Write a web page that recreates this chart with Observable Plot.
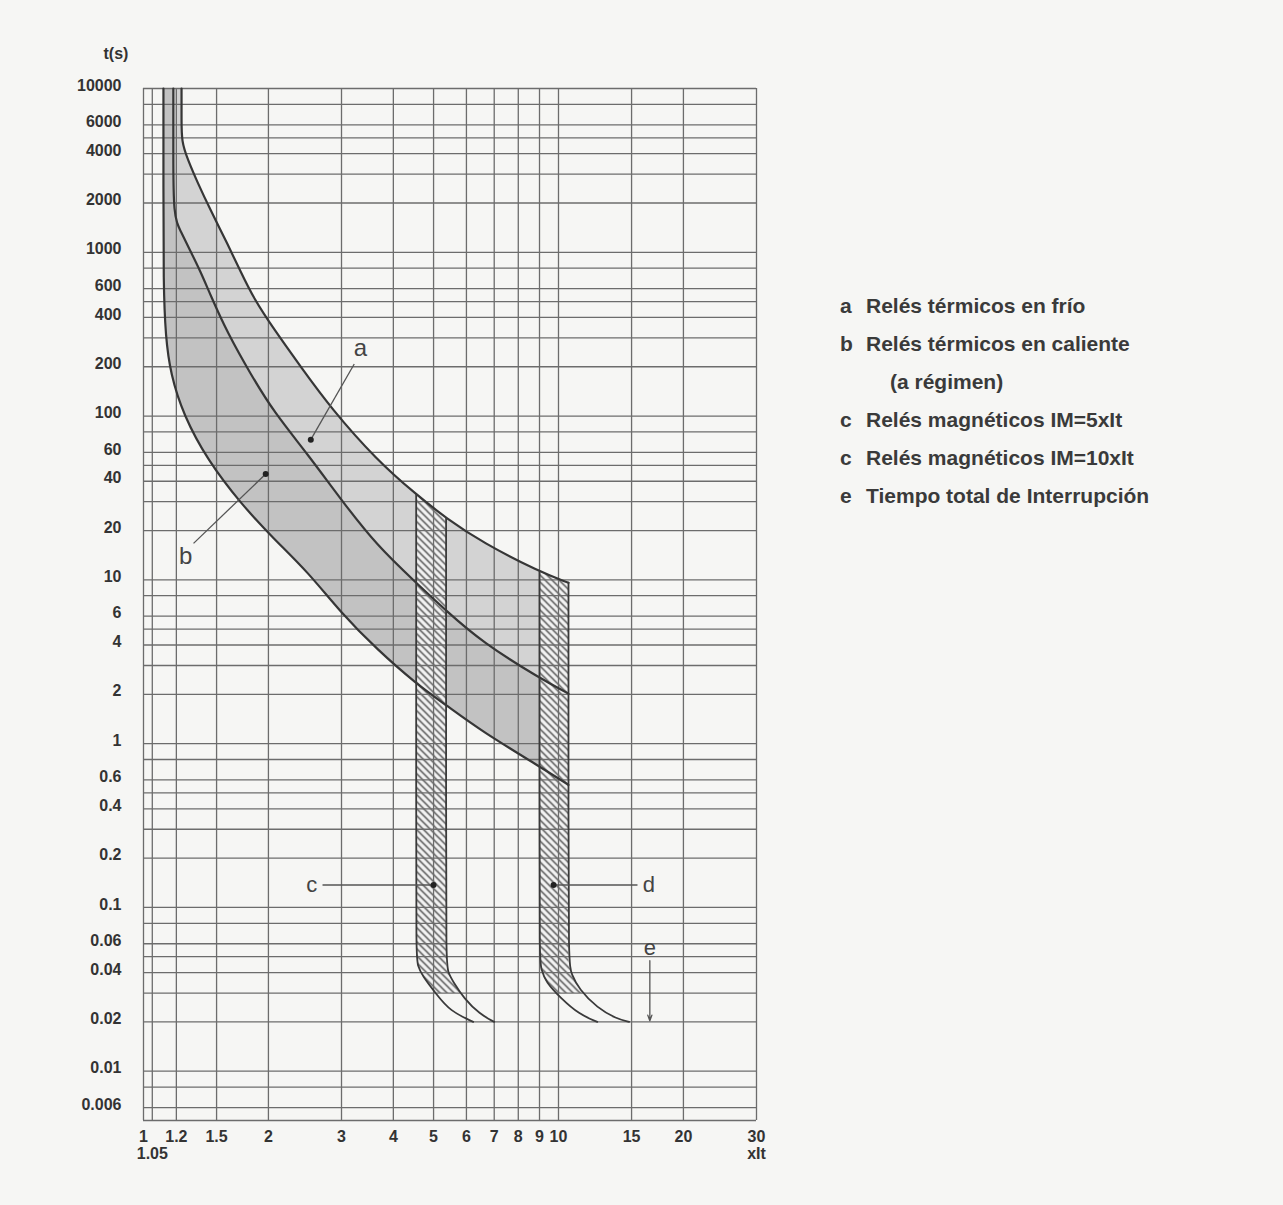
<!DOCTYPE html>
<html><head><meta charset="utf-8">
<script src="https://cdn.jsdelivr.net/npm/d3@7"></script>
<script src="https://cdn.jsdelivr.net/npm/@observablehq/plot@0.6"></script>
<style>
body{margin:0;background:#f6f6f4;font-family:"Liberation Sans",Arial,sans-serif;}
#wrap{position:relative;width:1283px;height:1205px;overflow:hidden;}
#chart{position:absolute;left:0;top:0;}
#legend{position:absolute;left:840px;top:287px;color:#3a3a3a;font-size:21px;font-weight:bold;line-height:38px;white-space:nowrap;}
#legend .k{display:inline-block;width:26px;}
</style></head><body>
<div id="wrap"><div id="chart"></div><div id="legend"></div></div>
<script>
// Axis ticks and grid (x = multiple of setting current, t = seconds)
const xTicks = [1, 1.2, 1.5, 2, 3, 4, 5, 6, 7, 8, 9, 10, 15, 20, 30];
const xGrid = [1, 1.05, 1.2, 1.5, 2, 3, 4, 5, 6, 7, 8, 9, 10, 15, 20, 30];
const yTicks = [10000, 6000, 4000, 2000, 1000, 600, 400, 200, 100, 60, 40, 20, 10, 6, 4, 2, 1, 0.6, 0.4, 0.2, 0.1, 0.06, 0.04, 0.02, 0.01, 0.006];
const yGrid = [0.005, 0.006, 0.008, 0.01, 0.02, 0.03, 0.04, 0.05, 0.06, 0.08,
  0.1, 0.2, 0.3, 0.4, 0.5, 0.6, 0.8, 1, 2, 3, 4, 5, 6, 8, 10, 20, 30, 40, 50, 60, 80,
  100, 200, 300, 400, 500, 600, 800, 1000, 2000, 3000, 4000, 5000, 6000, 8000, 10000];

// Thermal curves [x, t]
const curveUpper = [[1.235,10000],[1.235,6500],[1.235,4732],[1.277,3706],[1.35,2661],[1.451,1805],[1.595,1122],[1.714,761],[1.843,523],[2.06,340],[2.393,200],[2.827,112],[3.65,53.8],[4.54,33.2],[5.36,23.8],[6.56,16.9],[9.0,11.2],[10.57,9.6]];
const curveMiddle = [[1.18,10000],[1.18,4000],[1.18,1655],[1.228,1353],[1.298,1014],[1.373,761],[1.451,546],[1.595,320],[1.813,180],[2.06,106],[2.488,58.4],[2.989,31.0],[3.65,16.2],[4.54,9.6],[5.36,6.48],[6.56,4.15],[9.0,2.51],[10.57,2.02]];
const curveLower = [[1.117,10000],[1.117,2500],[1.117,631],[1.13,307],[1.162,180],[1.249,101],[1.427,53.8],[1.714,29.3],[2.06,17.8],[2.488,11.2],[2.989,6.3],[3.65,3.77],[4.54,2.32],[5.36,1.72],[6.56,1.18],[9.0,0.726],[10.57,0.56]];

// Magnetic release bands
const cLeft = [[4.54,33.2],[4.54,0.3],[4.54,0.0506],[4.58,0.044],[4.69,0.0385],[5.09,0.0293],[5.48,0.0233],[6.23,0.02]];
const cRight = [[5.36,23.8],[5.36,0.3],[5.36,0.046],[5.42,0.04],[5.58,0.035],[5.92,0.0278],[6.46,0.0223],[7.0,0.02]];
const dLeft = [[9.0,11.2],[9.0,0.3],[9.0,0.0485],[9.08,0.042],[9.32,0.035],[10.15,0.0278],[11.2,0.0223],[12.4,0.02]];
const dRight = [[10.57,9.6],[10.57,0.3],[10.57,0.046],[10.75,0.039],[11.2,0.0318],[12.4,0.0243],[13.8,0.0209],[14.8,0.02]];
const hatchC = [[4.54,33.2],[5.36,23.8],[5.36,0.046],[5.42,0.04],[5.58,0.035],[5.8,0.03],[5.05,0.03],[4.69,0.0385],[4.58,0.044],[4.54,0.0506]];
const hatchD = [[9.0,11.2],[10.57,9.6],[10.57,0.046],[10.75,0.039],[11.2,0.0318],[11.45,0.03],[9.85,0.03],[9.32,0.035],[9.08,0.042],[9.0,0.0485]];

// Callout letters, leader lines and dots
const calloutLabels = [
  {k:"a", x:3.33, y:258, size:24}, {k:"b", x:1.263, y:13.9, size:24},
  {k:"c", x:2.545, y:0.137, size:22}, {k:"d", x:16.5, y:0.137, size:22},
  {k:"e", x:16.6, y:0.0564, size:22}];
const leaders = [
  {x1:3.22, y1:208, x2:2.53, y2:71.8}, {x1:1.32, y1:16.7, x2:1.97, y2:44.3},
  {x1:2.70, y1:0.137, x2:5.0, y2:0.137}, {x1:15.5, y1:0.137, x2:9.73, y2:0.137}];
const dots = [[2.53,71.8],[1.97,44.3],[5.0,0.137],[9.73,0.137]];
const arrowE = [{x1:16.6, y1:0.0473, x2:16.6, y2:0.0203}];

// Legend
const legendKeys = ["a", "b", "", "c", "c", "e"];
const legendTexts = ["Relés térmicos en frío", "Relés térmicos en caliente", "(a régimen)", "Relés magnéticos IM=5xIt", "Relés magnéticos IM=10xIt", "Tiempo total de Interrupción"];

// Closed band outlines (corners tripled so the B-spline keeps them sharp)
const tri = p => [p, p, p];
function band(top, bottom) {
  const r = bottom.slice().reverse();
  return [...tri(top[0]), ...top.slice(1, -1), ...tri(top[top.length - 1]),
          ...tri(r[0]), ...r.slice(1, -1), ...tri(r[r.length - 1])];
}
const bandA = band(curveUpper, curveMiddle);
const bandB = band(curveMiddle, curveLower);
const X = d => d[0], Y = d => d[1];
const lineStyle = {x: X, y: Y, stroke: "#363636", strokeWidth: 2.2, curve: "basis"};
const edgeStyle = {x: X, y: Y, stroke: "#3a3a3a", strokeWidth: 1.8, curve: "basis"};

const svg = Plot.plot({
  width: 800, height: 1205,
  marginLeft: 143, marginRight: 44, marginTop: 88, marginBottom: 85,
  style: {fontFamily: "'Liberation Sans', Arial, sans-serif", fontSize: "16px", fontWeight: "bold", color: "#333", background: "transparent"},
  x: {type: "log", domain: [1, 30], axis: null},
  y: {type: "log", domain: [0.005, 10000], axis: null},
  marks: [
    Plot.line(bandA, {x: X, y: Y, fill: "#d3d3d3", stroke: "none", curve: "basis"}),
    Plot.line(bandB, {x: X, y: Y, fill: "#c2c2c2", stroke: "none", curve: "basis"}),
    Plot.line(hatchC, {x: X, y: Y, fill: "url(#hatch)", stroke: "none"}),
    Plot.line(hatchD, {x: X, y: Y, fill: "url(#hatch)", stroke: "none"}),
    Plot.ruleX(xGrid, {stroke: "#6c6c6c", strokeWidth: 1.3}),
    Plot.ruleY(yGrid, {stroke: "#6c6c6c", strokeWidth: 1.3}),
    Plot.line(curveUpper, lineStyle),
    Plot.line(curveMiddle, lineStyle),
    Plot.line(curveLower, lineStyle),
    Plot.line(cLeft, edgeStyle),
    Plot.line(cRight, edgeStyle),
    Plot.line(dLeft, edgeStyle),
    Plot.line(dRight, edgeStyle),
    Plot.link(leaders, {x1: "x1", y1: "y1", x2: "x2", y2: "y2", stroke: "#555", strokeWidth: 1.3}),
    Plot.arrow(arrowE, {x1: "x1", y1: "y1", x2: "x2", y2: "y2", stroke: "#555", strokeWidth: 1.3, headLength: 7, headAngle: 40, bend: 0}),
    Plot.dot(dots, {x: X, y: Y, r: 3, fill: "#222", stroke: "none"}),
    Plot.text(calloutLabels, {x: "x", y: "y", text: "k", fontSize: d => d.size, fontWeight: "normal", fill: "#444"}),
    Plot.text(yTicks, {y: d => d, text: d => String(d), frameAnchor: "left", textAnchor: "end", dx: -22, dy: -3}),
    Plot.text(xTicks, {x: d => d, text: d => String(d), frameAnchor: "bottom", lineAnchor: "top", dy: 10}),
    Plot.text(["1.05"], {x: [1.05], frameAnchor: "bottom", dy: 38}),
    Plot.text(["xIt"], {x: [30], frameAnchor: "bottom", dy: 38}),
    Plot.text(["t(s)"], {frameAnchor: "top-left", dx: -40, dy: -41})
  ]
});

const defs = d3.select(svg).insert("defs", ":first-child");
const pat = defs.append("pattern").attr("id", "hatch").attr("patternUnits", "userSpaceOnUse").attr("width", 7).attr("height", 7);
pat.append("rect").attr("width", 7).attr("height", 7).attr("fill", "#f2f2f2");
pat.append("path").attr("d", "M-1,-1L8,8M-1,6L1,8M6,-1L8,1").attr("stroke", "#454545").attr("stroke-width", 1.3);

document.getElementById("chart").appendChild(svg);

const legend = d3.select("#legend");
legendTexts.forEach((t, i) => {
  const row = legend.append("div");
  if (legendKeys[i]) {
    row.append("span").attr("class", "k").text(legendKeys[i]);
    row.append("span").text(t);
  } else {
    row.append("span").style("padding-left", "50px").text(t);
  }
});
</script></body></html>
